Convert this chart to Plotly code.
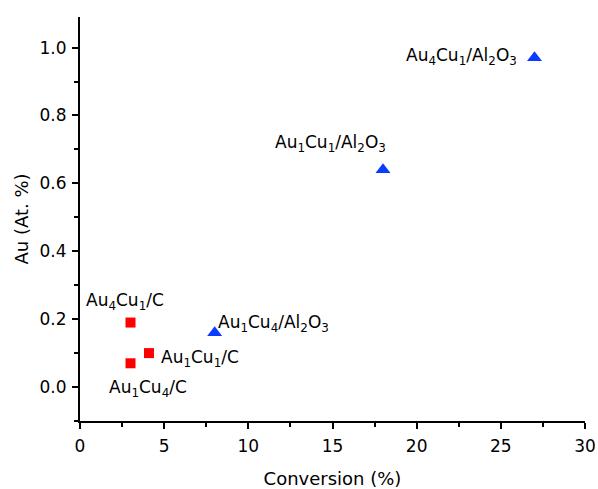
import plotly.graph_objects as go

# Data
c_labels = ["Au<sub>4</sub>Cu<sub>1</sub>/C", "Au<sub>1</sub>Cu<sub>1</sub>/C", "Au<sub>1</sub>Cu<sub>4</sub>/C"]
c_conv = [3.0, 4.1, 3.0]
c_au = [0.19, 0.10, 0.07]

al_labels = ["Au<sub>4</sub>Cu<sub>1</sub>/Al<sub>2</sub>O<sub>3</sub>",
             "Au<sub>1</sub>Cu<sub>1</sub>/Al<sub>2</sub>O<sub>3</sub>",
             "Au<sub>1</sub>Cu<sub>4</sub>/Al<sub>2</sub>O<sub>3</sub>"]
al_conv = [27.0, 18.0, 8.0]
al_au = [0.97, 0.64, 0.16]

x_ticks = [0, 5, 10, 15, 20, 25, 30]
y_ticks = [0.0, 0.2, 0.4, 0.6, 0.8, 1.0]

FONT = "DejaVu Sans, Liberation Sans, Arial, sans-serif"

fig = go.Figure()
fig.add_trace(go.Scatter(x=c_conv, y=c_au, mode="markers",
                         marker=dict(symbol="square", size=10, color="#ff0000", line=dict(width=0)),
                         showlegend=False))
fig.add_trace(go.Scatter(x=al_conv, y=al_au, mode="markers",
                         marker=dict(symbol="triangle-up", size=13, color="#0a3cff", line=dict(width=0)),
                         showlegend=False))

# label placement (pixel offsets, anchors)
c_place = [dict(xanchor="center", yanchor="middle", xshift=-6, yshift=21),
           dict(xanchor="left", yanchor="middle", xshift=10, yshift=-5),
           dict(xanchor="center", yanchor="middle", xshift=17, yshift=-25)]
al_place = [dict(xanchor="right", yanchor="middle", xshift=-16, yshift=1),
            dict(xanchor="right", yanchor="middle", xshift=5, yshift=26),
            dict(xanchor="left", yanchor="middle", xshift=1, yshift=9)]

annotations = []
for lab, x, y, p in zip(c_labels, c_conv, c_au, c_place):
    annotations.append(dict(x=x, y=y, text=lab, showarrow=False, font=dict(size=17, color="black", family=FONT), **p))
for lab, x, y, p in zip(al_labels, al_conv, al_au, al_place):
    annotations.append(dict(x=x, y=y, text=lab, showarrow=False, font=dict(size=17, color="black", family=FONT), **p))

fig.update_layout(
    width=598, height=489,
    margin=dict(l=80, r=13, t=17, b=68),
    paper_bgcolor="white", plot_bgcolor="white",
    font=dict(family=FONT, size=17, color="black"),
    annotations=annotations,
    xaxis=dict(range=[0, 30], tickvals=x_ticks, ticktext=[str(v) for v in x_ticks],
               showline=True, linecolor="black", linewidth=2, showgrid=False, zeroline=False,
               ticks="outside", ticklen=6, tickwidth=1.5, tickcolor="black",
               minor=dict(ticks="outside", ticklen=4, tickwidth=1.5, tickcolor="black", dtick=2.5),
               title=dict(text="Conversion (%)", font=dict(size=18), standoff=20),
               tickfont=dict(size=17), ticklabeloverflow="allow", automargin=False,
               ticklabelstandoff=3),
    yaxis=dict(range=[-0.1, 1.09], tickvals=y_ticks, ticktext=[f"{v:.1f}" for v in y_ticks],
               showline=True, linecolor="black", linewidth=2, showgrid=False, zeroline=False,
               ticks="outside", ticklen=6, tickwidth=1.5, tickcolor="black",
               minor=dict(ticks="outside", ticklen=4, tickwidth=1.5, tickcolor="black", dtick=0.1),
               title=dict(text="Au (At. %)", font=dict(size=18), standoff=6),
               tickfont=dict(size=17), automargin=False, ticklabelstandoff=2),
)

fig.write_html("out.html", config={"displayModeBar": False},
               post_script="document.body.style.margin='0';document.body.style.overflow='hidden';")
